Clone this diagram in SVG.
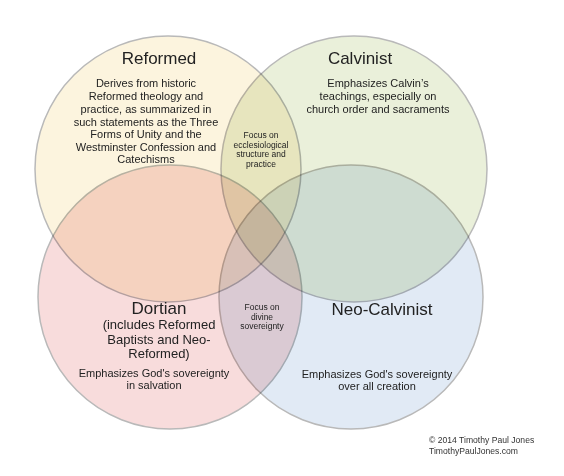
<svg xmlns="http://www.w3.org/2000/svg" width="564" height="476" viewBox="0 0 564 476">
<style>
.c{stroke:#b9b9b9;stroke-width:1.5;mix-blend-mode:multiply}
text{font-family:"Liberation Sans",Arial,sans-serif;fill:#222;text-anchor:middle}
.t{font-size:17px}
.s{font-size:13px}
.b{font-size:11px}
.f{font-size:8.5px}
.cp{font-size:8.6px;text-anchor:start;fill:#333}
</style>
<rect width="564" height="476" fill="#fff"/>
<g id="circles">
<circle id="reformed-circle" class="c" cx="168" cy="169" r="133" fill="#fcf4de"/>
<circle id="calvinist-circle" class="c" cx="354" cy="169" r="133" fill="#eaf0da"/>
<circle id="dortian-circle" class="c" cx="170" cy="297" r="132" fill="#f8dcdc"/>
<circle id="neocalvinist-circle" class="c" cx="351" cy="297" r="132" fill="#e1eaf5"/>
</g>
<g id="reformed">
<text class="t" x="159" y="64">Reformed</text>
<text class="b" x="146" y="87">Derives from historic</text>
<text class="b" x="146" y="100">Reformed theology and</text>
<text class="b" x="146" y="113">practice, as summarized in</text>
<text class="b" x="146" y="126">such statements as the Three</text>
<text class="b" x="146" y="138">Forms of Unity and the</text>
<text class="b" x="146" y="151">Westminster Confession and</text>
<text class="b" x="146" y="163">Catechisms</text>
</g>
<g id="calvinist">
<text class="t" x="360" y="64">Calvinist</text>
<text class="b" x="378" y="87">Emphasizes Calvin’s</text>
<text class="b" x="378" y="100">teachings, especially on</text>
<text class="b" x="378" y="113">church order and sacraments</text>
</g>
<g id="ecclesiological">
<text class="f" x="261" y="138">Focus on</text>
<text class="f" x="261" y="147.5">ecclesiological</text>
<text class="f" x="261" y="157">structure and</text>
<text class="f" x="261" y="166.5">practice</text>
</g>
<g id="dortian">
<text class="t" x="159" y="314">Dortian</text>
<text class="s" x="159" y="329">(includes Reformed</text>
<text class="s" x="159" y="343.5">Baptists and Neo-</text>
<text class="s" x="159" y="358">Reformed)</text>
<text class="b" x="154" y="377">Emphasizes God's sovereignty</text>
<text class="b" x="154" y="389">in salvation</text>
</g>
<g id="divine">
<text class="f" x="262" y="310">Focus on</text>
<text class="f" x="262" y="319.5">divine</text>
<text class="f" x="262" y="329">sovereignty</text>
</g>
<g id="neocalvinist">
<text class="t" x="382" y="315">Neo-Calvinist</text>
<text class="b" x="377" y="378">Emphasizes God's sovereignty</text>
<text class="b" x="377" y="390">over all creation</text>
</g>
<g id="credit">
<text class="cp" x="429" y="443">© 2014 Timothy Paul Jones</text>
<text class="cp" x="429" y="454">TimothyPaulJones.com</text>
</g>
</svg>
